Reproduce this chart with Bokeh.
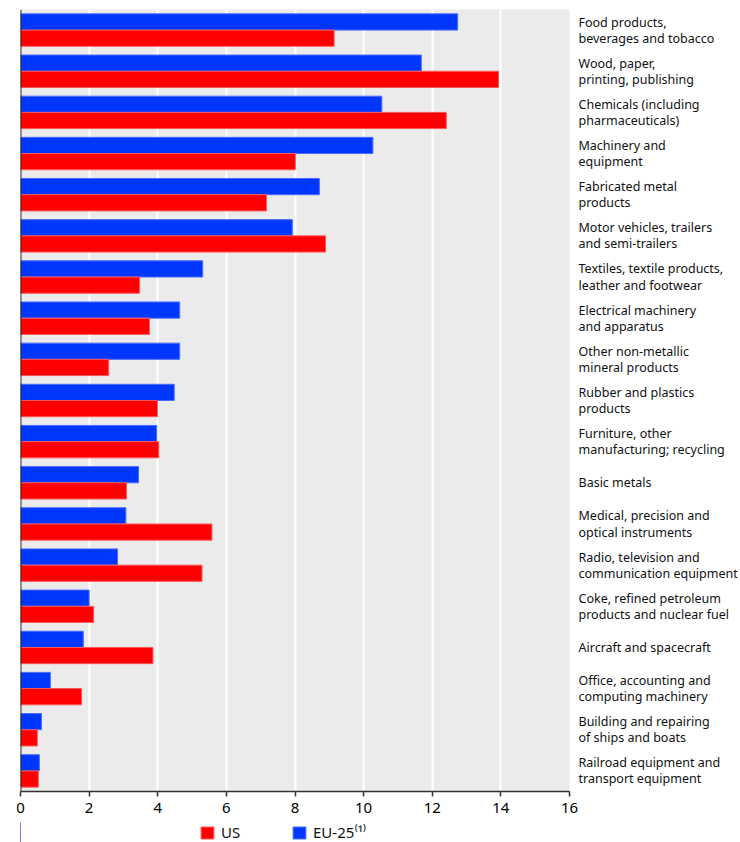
from bokeh.plotting import figure
from bokeh.layouts import column
from bokeh.models import (FactorRange, CategoricalAxis, FixedTicker, Span,
                          Legend, LegendItem, ColumnDataSource)
from bokeh.transform import dodge
from bokeh.embed import file_html
from bokeh.resources import INLINE

categories = [
    "Food products,\nbeverages and tobacco",
    "Wood, paper,\nprinting, publishing",
    "Chemicals (including\npharmaceuticals)",
    "Machinery and\nequipment",
    "Fabricated metal\nproducts",
    "Motor vehicles, trailers\nand semi-trailers",
    "Textiles, textile products,\nleather and footwear",
    "Electrical machinery\nand apparatus",
    "Other  non-metallic\nmineral products",
    "Rubber and plastics\nproducts",
    "Furniture, other\nmanufacturing; recycling",
    "Basic metals",
    "Medical, precision and\noptical instruments",
    "Radio, television and\ncommunication equipment",
    "Coke, refined petroleum\nproducts and nuclear fuel",
    "Aircraft and spacecraft",
    "Office, accounting and\ncomputing machinery",
    "Building and repairing\nof ships and boats",
    "Railroad equipment and\ntransport equipment",
]
eu25 = [12.74, 11.68, 10.53, 10.27, 8.71, 7.92, 5.31, 4.64, 4.64, 4.48,
        3.97, 3.44, 3.07, 2.83, 2.00, 1.83, 0.87, 0.61, 0.55]
us = [9.14, 13.93, 12.41, 8.01, 7.17, 8.89, 3.47, 3.76, 2.57, 3.99,
      4.03, 3.09, 5.58, 5.29, 2.13, 3.86, 1.78, 0.49, 0.52]
x_ticks = [0, 2, 4, 6, 8, 10, 12, 14, 16]
series_names = ["US", "EU-25\u207d\u00b9\u207e"]

FONT = "Noto Sans"
BLUE = "#0037ff"
RED = "#ff0000"
BLUE_EDGE = "#4a6cff"
RED_EDGE = "#ff5a5a"

source = ColumnDataSource(dict(cat=categories, eu=eu25, us=us))

p = figure(width=740, height=822, output_backend="svg", toolbar_location=None,
           y_range=FactorRange(*reversed(categories), range_padding=0),
           x_range=(0, 16), y_axis_location=None,
           min_border_left=20, min_border_right=169,
           min_border_top=9, min_border_bottom=31)
p.background_fill_color = "#ebebeb"
p.outline_line_color = None

r_eu = p.hbar(y=dodge("cat", 0.197, range=p.y_range), right="eu", left=0,
              height=0.394, source=source, fill_color=BLUE,
              line_color=BLUE_EDGE, line_width=1)
r_us = p.hbar(y=dodge("cat", -0.197, range=p.y_range), right="us", left=0,
              height=0.394, source=source, fill_color=RED,
              line_color=RED_EDGE, line_width=1)

# grid
p.ygrid.grid_line_color = None
p.xgrid.grid_line_color = "white"
p.xgrid.grid_line_width = 2
p.xgrid.ticker = FixedTicker(ticks=x_ticks)

# x axis
xa = p.xaxis[0]
xa.ticker = FixedTicker(ticks=x_ticks)
xa.axis_line_color = "#333333"
xa.axis_line_width = 1.5
xa.major_tick_line_color = "#333333"
xa.major_tick_line_width = 1.5
xa.major_tick_in = 0
xa.major_tick_out = 5
xa.minor_tick_line_color = None
xa.major_label_text_font = FONT
xa.major_label_text_font_size = "15px"
xa.major_label_text_color = "black"
xa.major_label_standoff = 6

# left axis line
p.add_layout(Span(location=0, dimension="height", line_color="#333333",
                  line_width=2))

# category labels on right
ra = CategoricalAxis()
ra.axis_line_color = None
ra.major_tick_line_color = None
ra.minor_tick_line_color = None
ra.major_tick_in = 0
ra.major_tick_out = 0
ra.major_label_text_font = FONT
ra.major_label_text_font_size = "12.5px"
ra.major_label_text_color = "#111111"
ra.major_label_text_line_height = 0.95
ra.major_label_standoff = 9
p.add_layout(ra, "right")

# legend strip below the chart (its bars fall far outside its own x range)
lg = figure(width=740, height=20, output_backend="svg", toolbar_location=None,
            x_range=(100, 116), y_range=FactorRange(*categories),
            x_axis_location=None, y_axis_location=None,
            min_border=0, min_border_left=0, min_border_right=0,
            min_border_top=0, min_border_bottom=0)
lg.outline_line_color = None
lg.background_fill_alpha = 0
lg.border_fill_alpha = 0
lg.grid.grid_line_color = None
l_us = lg.hbar(y="cat", right="us", left=0, height=0.4, source=source,
               fill_color=RED, line_color=RED_EDGE)
l_eu = lg.hbar(y="cat", right="eu", left=0, height=0.4, source=source,
               fill_color=BLUE, line_color=BLUE_EDGE)
legend = Legend(items=[LegendItem(label=series_names[0], renderers=[l_us]),
                       LegendItem(label=series_names[1], renderers=[l_eu])],
                orientation="horizontal", location=(179, 0),
                glyph_width=16, glyph_height=15, label_height=20,
                label_standoff=6, spacing=50, padding=0, margin=0,
                border_line_color=None, background_fill_alpha=0,
                label_text_font=FONT, label_text_font_size="15px",
                label_text_color="#111111")
lg.add_layout(legend, "center")

layout = column(p, lg, spacing=0)
open("out.html", "w").write(file_html(layout, INLINE))
